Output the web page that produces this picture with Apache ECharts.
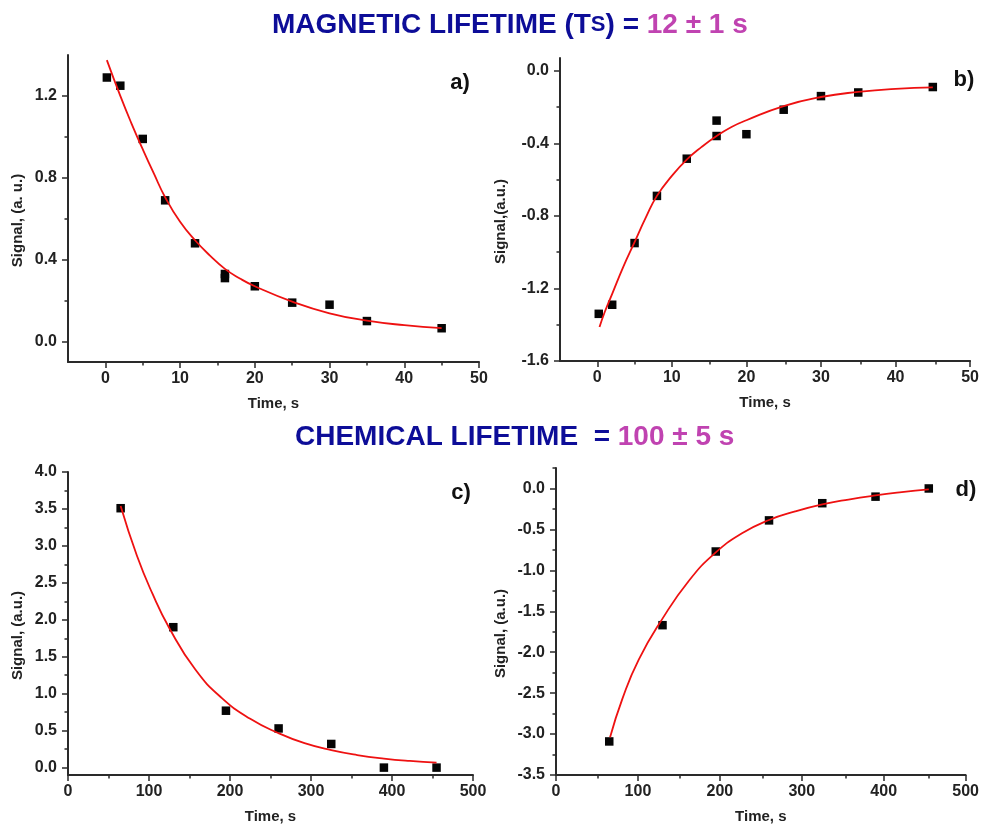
<!DOCTYPE html>
<html>
<head>
<meta charset="utf-8">
<script src="https://cdn.jsdelivr.net/npm/echarts@6/dist/echarts.min.js"></script>
<style>
html,body{margin:0;padding:0;background:#fff;}
#chart{width:982px;height:826px;}
</style>
</head>
<body>
<div id="chart"></div>
<script>
// ---------- data ----------
// panel a) magnetic decay
const aX = [0.2, 2, 5, 8, 12, 16, 16, 20, 25, 30, 35, 45];
const aY = [1.29, 1.25, 0.99, 0.69, 0.48, 0.33, 0.31, 0.27, 0.19, 0.18, 0.10, 0.065];
const aFitX = [0.2, 2, 3.5, 5, 6.5, 8, 10, 12, 14, 16, 18, 20, 25, 30, 35, 40, 45];
const aFitY = [1.375, 1.20, 1.065, 0.94, 0.82, 0.705, 0.585, 0.495, 0.42, 0.355, 0.308, 0.27, 0.195, 0.138, 0.102, 0.080, 0.066];
// panel b) magnetic recovery
const bX = [0.2, 2, 5, 8, 12, 16, 16, 20, 25, 30, 35, 45];
const bY = [-1.34, -1.29, -0.95, -0.69, -0.485, -0.275, -0.36, -0.35, -0.215, -0.14, -0.12, -0.09];
const bFitX = [0.3, 1, 2, 3.5, 5, 6.5, 8, 10, 12, 14, 16, 18, 20, 25, 30, 35, 40, 45];
const bFitY = [-1.413, -1.33, -1.23, -1.08, -0.945, -0.81, -0.69, -0.58, -0.49, -0.42, -0.36, -0.31, -0.273, -0.195, -0.145, -0.117, -0.10, -0.092];
// panel c) chemical decay
const cX = [65, 130, 195, 260, 325, 390, 455];
const cY = [3.51, 1.90, 0.77, 0.53, 0.32, 0.0, 0.0];
const cFitX = [65, 85, 104, 125, 157, 190, 225, 260, 292, 325, 357, 390, 422, 455];
const cFitY = [3.54, 2.87, 2.36, 1.89, 1.33, 0.94, 0.66, 0.465, 0.33, 0.236, 0.17, 0.122, 0.09, 0.068];
// panel d) chemical recovery
const dX = [65, 130, 195, 260, 325, 390, 455];
const dY = [-3.09, -1.67, -0.77, -0.39, -0.18, -0.10, 0.0];
const dFitX = [66, 81, 101, 130, 162, 194, 227, 260, 292, 325, 357, 390, 422, 455];
const dFitY = [-3.04, -2.57, -2.09, -1.59, -1.13, -0.79, -0.548, -0.385, -0.28, -0.195, -0.135, -0.085, -0.045, -0.01];

// tick labels / tick positions
const magXLabels = [0, 10, 20, 30, 40, 50];
const magXMinor = [5, 15, 25, 35, 45];
const aYLabels = [0, 0.4, 0.8, 1.2];
const aYMinor = [0.2, 0.6, 1.0];
const bYLabels = [-1.6, -1.2, -0.8, -0.4, 0];
const bYMinor = [-1.4, -1.0, -0.6, -0.2];
const chemXLabels = [0, 100, 200, 300, 400, 500];
const chemXMinor = [50, 150, 250, 350, 450];
const cYLabels = [0, 0.5, 1.0, 1.5, 2.0, 2.5, 3.0, 3.5, 4.0];
const cYMinor = [0.25, 0.75, 1.25, 1.75, 2.25, 2.75, 3.25, 3.75];
const dYLabels = [-3.5, -3.0, -2.5, -2.0, -1.5, -1.0, -0.5, 0];
const dYMinor = [-3.25, -2.75, -2.25, -1.75, -1.25, -0.75, -0.25, 0.25];

const title1 = ['MAGNETIC LIFETIME (T', 'S', ') = ', '12 ± 1 s'];
const title2 = ['CHEMICAL LIFETIME  = ', '100 ± 5 s'];

// ---------- chart ----------
const FONT = '"Liberation Sans", Arial, sans-serif';
const AX = '#2a2a2a';
const panels = [
  {rect:[68,55,411,307], xr:[-5,50], yr:[-0.1,1.4], xl:magXLabels, xm:magXMinor, yl:aYLabels, ym:aYMinor,
   px:aX, py:aY, fx:aFitX, fy:aFitY, yname:'Signal, (a. u.)', ygap:43, tag:'a)', tagPos:[460,83]},
  {rect:[560,58,413,303], xr:[-5,50], yr:[-1.6,0.07], xl:magXLabels, xm:magXMinor, yl:bYLabels, ym:bYMinor,
   px:bX, py:bY, fx:bFitX, fy:bFitY, yname:'Signal,(a.u.)', ygap:52, tag:'b)', tagPos:[964,80]},
  {rect:[68,472,405,303], xr:[0,500], yr:[-0.1,4.0], xl:chemXLabels, xm:chemXMinor, yl:cYLabels, ym:cYMinor,
   px:cX, py:cY, fx:cFitX, fy:cFitY, yname:'Signal, (a.u.)', ygap:43, tag:'c)', tagPos:[461,493]},
  {rect:[556,468,414,307], xr:[0,500], yr:[-3.5,0.25], xl:chemXLabels, xm:chemXMinor, yl:dYLabels, ym:dYMinor,
   px:dX, py:dY, fx:dFitX, fy:dFitY, yname:'Signal, (a.u.)', ygap:48, tag:'d)', tagPos:[966,490]}
];

const grid = [], xAxis = [], yAxis = [], series = [], graphic = [];
panels.forEach((p, i) => {
  const g = {left:p.rect[0], top:p.rect[1], width:p.rect[2], height:p.rect[3], containLabel:false};
  grid.push(Object.assign({}, g));
  grid.push(Object.assign({}, g)); // overlay grid for minor ticks
  const gi = grid.length - 2;
  const lab = {fontFamily:FONT, fontWeight:'bold', fontSize:16, color:'#222'};
  xAxis.push({
    type:'value', gridIndex:gi, min:p.xr[0], max:p.xr[1], position:'bottom',
    axisLine:{show:true, onZero:false, lineStyle:{color:AX, width:2}},
    axisTick:{show:true, inside:false, length:6, lineStyle:{color:AX, width:1.5}, customValues:p.xl},
    axisLabel:Object.assign({margin:9, customValues:p.xl, formatter:v => String(Math.round(v))}, lab),
    splitLine:{show:false},
    name:'Time, s', nameLocation:'middle', nameGap:34,
    nameTextStyle:{fontFamily:FONT, fontWeight:'bold', fontSize:15, color:'#222'}
  });
  yAxis.push({
    type:'value', gridIndex:gi, min:p.yr[0], max:p.yr[1], position:'left',
    axisLine:{show:true, onZero:false, lineStyle:{color:AX, width:2}},
    axisTick:{show:true, inside:false, length:6, lineStyle:{color:AX, width:1.5}, customValues:p.yl},
    axisLabel:Object.assign({margin:11, customValues:p.yl, formatter:v => v.toFixed(1)}, lab),
    splitLine:{show:false},
    name:p.yname, nameLocation:'middle', nameGap:p.ygap, nameRotate:90,
    nameTextStyle:{fontFamily:FONT, fontWeight:'bold', fontSize:15, color:'#222', padding:[0,24,0,0]}
  });
  // minor ticks
  xAxis.push({
    type:'value', gridIndex:gi+1, min:p.xr[0], max:p.xr[1], position:'bottom',
    axisLine:{show:false, onZero:false}, axisLabel:{show:false}, splitLine:{show:false},
    axisTick:{show:true, inside:false, length:3.5, lineStyle:{color:AX, width:1.5}, customValues:p.xm}
  });
  yAxis.push({
    type:'value', gridIndex:gi+1, min:p.yr[0], max:p.yr[1], position:'left',
    axisLine:{show:false, onZero:false}, axisLabel:{show:false}, splitLine:{show:false},
    axisTick:{show:true, inside:false, length:3.5, lineStyle:{color:AX, width:1.5}, customValues:p.ym}
  });
  const ai = xAxis.length - 2;
  series.push({
    type:'scatter', xAxisIndex:ai, yAxisIndex:ai, symbol:'rect', symbolSize:8.5,
    itemStyle:{color:'#050505', opacity:1}, z:3, silent:true,
    data:p.px.map((x, k) => [x, p.py[k]])
  });
  series.push({
    type:'line', xAxisIndex:ai, yAxisIndex:ai, showSymbol:false, smooth:0.5,
    lineStyle:{color:'#ee1111', width:1.8}, z:4, silent:true,
    data:p.fx.map((x, k) => [x, p.fy[k]])
  });
  graphic.push({
    type:'text', x:p.tagPos[0], y:p.tagPos[1],
    style:{text:p.tag, fontFamily:FONT, fontWeight:'bold', fontSize:22, fill:'#111', align:'center', verticalAlign:'middle'}
  });
});

const BLUE = '#0d0d98', MAG = '#c043b1';
const rich = {
  b:{fontFamily:FONT, fontWeight:'bold', fontSize:28, color:BLUE},
  bs:{fontFamily:FONT, fontWeight:'bold', fontSize:22, color:BLUE},
  m:{fontFamily:FONT, fontWeight:'bold', fontSize:28, color:MAG}
};
const option = {
  backgroundColor:'#ffffff',
  animation:false,
  title:[
    {text:'{b|' + title1[0] + '}{bs|' + title1[1] + '}{b|' + title1[2] + '}{m|' + title1[3] + '}',
     left:272, top:11, padding:0, textStyle:{rich:rich}},
    {text:'{b|' + title2[0] + '}{m|' + title2[1] + '}',
     left:295, top:423, padding:0, textStyle:{rich:rich}}
  ],
  grid:grid, xAxis:xAxis, yAxis:yAxis, series:series, graphic:graphic
};
const chart = echarts.init(document.getElementById('chart'), null, {renderer:'canvas'});
chart.setOption(option);
</script>
</body>
</html>
